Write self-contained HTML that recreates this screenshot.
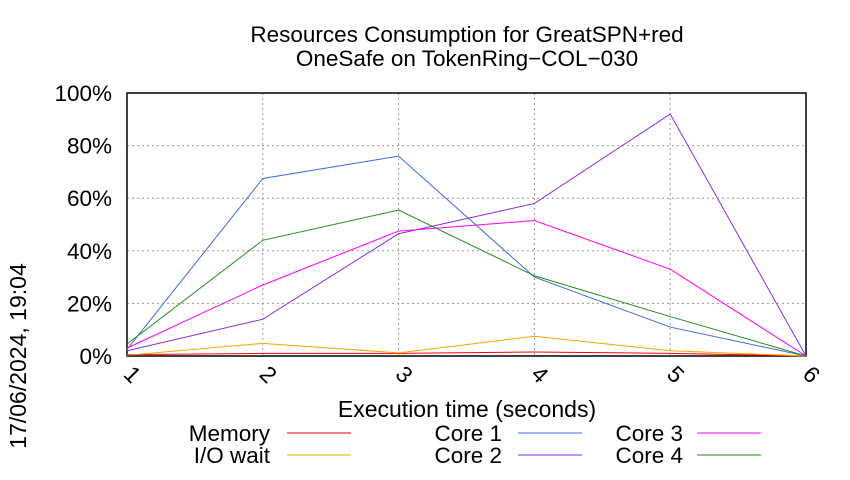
<!DOCTYPE html>
<html><head><meta charset="utf-8"><style>body{margin:0;background:#fff}svg{font-family:"Liberation Sans",sans-serif}</style></head><body>
<svg id="c" width="850" height="475"></svg>
<script>
const categories=[1,2,3,4,5,6];
const yTicks=[0,20,40,60,80,100];
const memory=[0.5,1,1,1.5,1,0];
const ioWait=[0.3,4.8,1.2,7.5,2,0];
const core1=[2.5,67.5,76,30,11,0];
const core2=[2,14,46.5,58,92,0];
const core3=[3,27,47.5,51.5,33,0];
const core4=[4.5,44,55.5,30.5,15,0];
const NS="http://www.w3.org/2000/svg",svg=document.getElementById('c');
const L=127,R=806,T=93,B=356;
const xs=v=>L+(v-1)*(R-L)/5, ys=v=>B-v*(B-T)/100;
function el(t,a,txt){const e=document.createElementNS(NS,t);for(const k in a)e.setAttribute(k,a[k]);if(txt!=null)e.textContent=txt;svg.appendChild(e);return e;}
let t=el('text',{x:467,y:42,'font-size':22.5,'text-anchor':'middle'},'Resources Consumption for GreatSPN+red');

t=el('text',{x:467,y:66,'font-size':22.5,'text-anchor':'middle'},'OneSafe on TokenRing\u2212COL\u2212030');

yTicks.forEach(v=>{const y=ys(v);
 if(v>0&&v<100){const g=el('line',{x1:L,x2:R,y1:y,y2:y,stroke:'#999','stroke-dasharray':'2,3'});}
 const k=el('text',{x:112,y:y+8,'font-size':22.5,'text-anchor':'end'},v+'%');});
categories.forEach(c=>{const x=xs(c);
 if(c>1&&c<6){const g=el('line',{x1:x,x2:x,y1:T,y2:B,stroke:'#999','stroke-dasharray':'2,3'});}
 const k=el('text',{x:x,y:380,'font-size':23,transform:`rotate(45 ${x} 380)`,'text-anchor':'middle'},c);});
const f=el('rect',{x:L,y:T,width:R-L,height:B-T,fill:'none',stroke:'#000','stroke-width':1.5});
t=el('text',{x:467,y:417,'font-size':23,'text-anchor':'middle'},'Execution time (seconds)');
t=el('text',{x:0,y:0,'font-size':23,'text-anchor':'middle',transform:'translate(26,356) rotate(-90)'},'17/06/2024, 19:04');
const series=[['Memory',memory,'#ff0000',270,287,433],['I/O wait',ioWait,'#ffa500',270,287,455],['Core 1',core1,'#4169e1',502,518,433],['Core 2',core2,'#8a2be2',502,518,455],['Core 3',core3,'#ff00ff',683,697,433],['Core 4',core4,'#228b22',683,697,455]];
series.forEach(([n,d,c,lx,sx,y])=>{
 const p=el('polyline',{points:d.map((v,i)=>xs(categories[i])+','+ys(v)).join(' '),fill:'none',stroke:c,'stroke-width':1});
 
 const lt=el('text',{x:lx,y:y+8,'font-size':22.5,'text-anchor':'end'},n);
 const ll=el('line',{x1:sx,x2:sx+64,y1:y,y2:y,stroke:c});
});
</script></body></html>
